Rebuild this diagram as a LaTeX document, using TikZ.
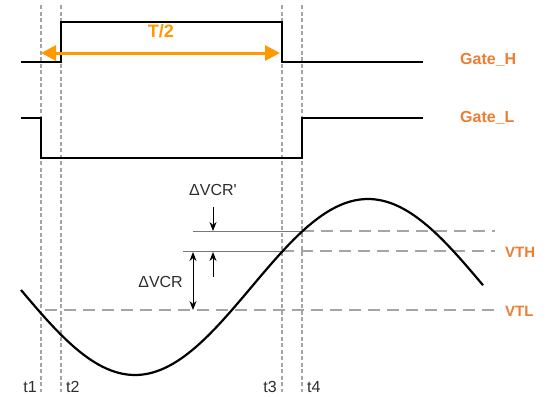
\documentclass[tikz,border=0pt]{standalone}
\usepackage{fontspec}
\setmainfont{Liberation Sans}
\usetikzlibrary{arrows.meta,positioning}
\definecolor{gateorange}{RGB}{237,125,49}
\definecolor{arroworange}{RGB}{255,153,0}
\definecolor{gridgray}{RGB}{165,165,165}
\definecolor{refgray}{RGB}{120,120,120}
\definecolor{textgray}{RGB}{45,45,45}

\begin{document}
\begin{tikzpicture}[x=1pt, y=-1pt,
    every node/.style={font=\fontsize{16}{18}\selectfont, inner sep=0pt, text=textgray},
    wave/.style={line width=2.6pt, line join=miter},
    tline/.style={gridgray, line width=1.3pt, dash pattern=on 4pt off 2.5pt},
    lvl/.style={gridgray, line width=1.4pt, dash pattern=on 12pt off 7pt},
    reflvl/.style={refgray, line width=1pt},
    dim/.style={line width=1pt, -{Stealth[length=9pt,width=7pt]}},
    siglabel/.style={text=gateorange, font=\fontsize{16}{18}\selectfont\bfseries, anchor=west}]
  \useasboundingbox (0,0) rectangle (550,397);

  % timing marks
  \foreach \x/\n in {41/1, 61/2, 282/3, 302/4} {
    \coordinate (top\n) at (\x,5);
    \coordinate (bot\n) at (\x,392);
    \draw[tline] (top\n) -- (bot\n);
  }
  \node[anchor=east] (lt1) at (37,387) {t1};
  \node[anchor=west] (lt2) at (66,387) {t2};
  \node[anchor=east] (lt3) at (277,387) {t3};
  \node[anchor=west] (lt4) at (307,387) {t4};

  % Gate_H
  \coordinate (h0) at (21,62);  \coordinate (h1) at (61,62);
  \coordinate (h2) at (61,22);  \coordinate (h3) at (282,22);
  \coordinate (h4) at (282,62); \coordinate (h5) at (423,62);
  \draw[wave] (h0) -- (h1) -- (h2) -- (h3) -- (h4) -- (h5);
  \node[siglabel] (gateH) at (460,60) {Gate\_H};

  % Gate_L
  \coordinate (l0) at (21,118);  \coordinate (l1) at (41,118);
  \coordinate (l2) at (41,158);  \coordinate (l3) at (302,158);
  \coordinate (l4) at (302,118); \coordinate (l5) at (423,118);
  \draw[wave] (l0) -- (l1) -- (l2) -- (l3) -- (l4) -- (l5);
  \node[siglabel] (gateL) at (460,118) {Gate\_L};

  % half period
  \coordinate (hpL) at (41,53);
  \coordinate (hpR) at (280,53);
  \draw[arroworange, line width=3pt, {Triangle[length=15pt,width=15pt]}-{Triangle[length=15pt,width=15pt]}] (hpL) -- (hpR);
  \node[text=arroworange, font=\fontsize{18}{20}\selectfont\bfseries] (half) at (161,31) {T/2};

  % thresholds
  \coordinate (vtlA) at (45,310);  \coordinate (vtlB) at (495,310);
  \draw[lvl] (vtlA) -- (vtlB);
  \node[siglabel, font=\fontsize{15}{18}\selectfont\bfseries] (vtl) at (505,311) {VTL};

  \coordinate (vthA) at (183,251); \coordinate (vthM) at (282,251); \coordinate (vthB) at (495,251);
  \draw[reflvl] (vthA) -- (vthM);
  \draw[lvl] (vthM) -- (vthB);
  \node[siglabel, font=\fontsize{15}{18}\selectfont\bfseries] (vth) at (505,252) {VTH};

  \coordinate (vtpA) at (193,231); \coordinate (vtpM) at (302,231); \coordinate (vtpB) at (495,231);
  \draw[reflvl] (vtpA) -- (vtpM);
  \draw[lvl] (vtpM) -- (vtpB);

  % resonant voltage
  \draw[line width=2.2pt, domain=21:483, samples=120, smooth]
    plot (\x, {287+88*cos((\x-135)/233*180)});

  % dimension arrows
  \node (dvcrp) at (213,190) {ΔVCR\textquotesingle};
  \coordinate (dpTop) at (213,207);
  \coordinate (dpBot) at (213,231);
  \draw[dim] (dpTop) -- (dpBot);
  \coordinate (upLow) at (213,277);
  \coordinate (upHigh) at (213,252);
  \draw[dim] (upLow) -- (upHigh);
  \coordinate (dvA) at (193,252);
  \coordinate (dvB) at (193,310);
  \draw[dim, {Stealth[length=9pt,width=7pt]}-{Stealth[length=9pt,width=7pt]}] (dvA) -- (dvB);
  \node[anchor=east] (dvcr) at (183,282) {ΔVCR};
\end{tikzpicture}
\end{document}
